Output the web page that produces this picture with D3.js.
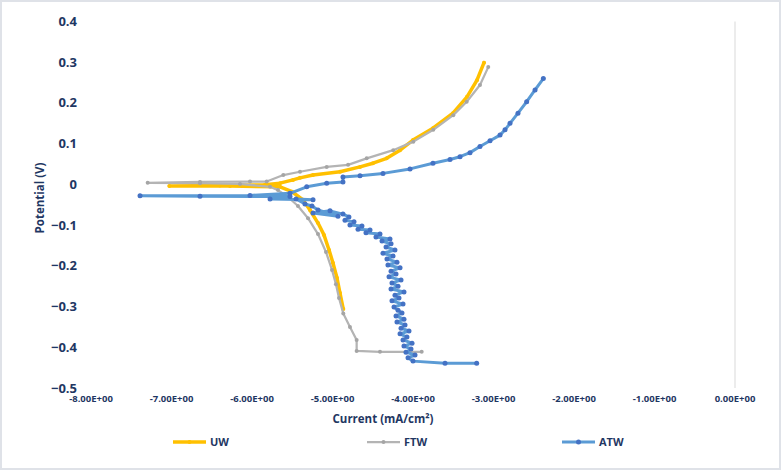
<!DOCTYPE html>
<html>
<head>
<meta charset="utf-8">
<script src="https://cdn.jsdelivr.net/npm/d3@7"></script>
<style>
  body { margin: 0; background: #fff; }
  text { font-family: "Open Sans", "Liberation Sans", sans-serif; font-weight: bold; fill: #1f3763; }
</style>
</head>
<body>
<div id="chart"></div>
<script>
// tick values
var xTicks = [-8, -7, -6, -5, -4, -3, -2, -1, 0];
var yTicks = [0.4, 0.3, 0.2, 0.1, 0, -0.1, -0.2, -0.3, -0.4, -0.5];

// UW series (current mA/cm2, potential V)
var uwCurrent = [-4.866, -4.907, -4.944, -4.994, -5.043, -5.106, -5.180, -5.280, -5.366, -5.503, -5.652, -6.273, -7.027,
  -6.40, -5.839, -5.652, -5.491, -5.404, -5.242, -4.907, -4.658, -4.497, -4.327, -4.161, -4.0, -3.752, -3.503, -3.329, -3.205, -3.118];
var uwPotential = [-0.306, -0.267, -0.230, -0.193, -0.161, -0.124, -0.095, -0.063, -0.038, -0.018, -0.006, -0.004, -0.004,
  -0.003, -0.001, 0.003, 0.011, 0.016, 0.023, 0.031, 0.043, 0.052, 0.064, 0.084, 0.109, 0.138, 0.175, 0.215, 0.256, 0.299];

// FTW series
var ftwCurrent = [-3.892, -4.410, -4.700, -4.700, -4.783, -4.866, -4.919, -4.957, -5.006, -5.081, -5.180, -5.304, -5.429, -5.553, -5.677, -5.776, -6.149, -6.646, -7.296,
  -6.646, -6.025, -5.817, -5.611, -5.404, -5.072, -4.807, -4.575, -4.245, -3.996, -3.748, -3.5, -3.333, -3.168, -3.065];
var ftwPotential = [-0.411, -0.411, -0.409, -0.382, -0.350, -0.317, -0.279, -0.245, -0.210, -0.166, -0.122, -0.083, -0.053, -0.031, -0.014, -0.006, 0.001, 0.003, 0.004,
  0.006, 0.007, 0.007, 0.023, 0.031, 0.043, 0.048, 0.064, 0.084, 0.105, 0.134, 0.170, 0.203, 0.244, 0.288];

// ATW series
var atwCurrent = [-3.209, -3.602, -4.0, -4.062, -3.975, -4.087, -4.025, -4.112, -4.012, -4.124, -4.075, -4.161, -4.050, -4.149,
  -4.099, -4.199, -4.112, -4.211, -4.137, -4.186, -4.236, -4.124, -4.261, -4.174, -4.224, -4.112, -4.273, -4.186, -4.261,
  -4.149, -4.298, -4.211, -4.273, -4.161, -4.311, -4.199, -4.323, -4.248, -4.373, -4.224, -4.335, -4.273, -4.385, -4.286,
  -4.460, -4.410, -4.584, -4.534, -4.683, -4.634, -4.783, -4.733, -4.845, -4.796, -4.870, -5.031, -5.242, -4.932, -5.180,
  -5.255, -5.342, -5.453, -5.242, -5.776, -5.528, -6.646, -7.391, -6.025, -5.528, -5.320, -5.072, -4.870, -4.870,
  -4.658, -4.373, -4.037, -3.752, -3.540, -3.416, -3.292, -3.168, -3.043, -2.919, -2.857, -2.795, -2.696, -2.588, -2.484, -2.381];
var atwPotential = [-0.439, -0.439, -0.434, -0.426, -0.419, -0.412, -0.404, -0.397, -0.390, -0.382, -0.375, -0.367, -0.360, -0.353,
  -0.345, -0.338, -0.331, -0.323, -0.316, -0.309, -0.301, -0.294, -0.286, -0.279, -0.272, -0.264, -0.257, -0.250, -0.242,
  -0.235, -0.227, -0.220, -0.213, -0.205, -0.198, -0.191, -0.183, -0.176, -0.169, -0.161, -0.154, -0.146, -0.139, -0.134,
  -0.129, -0.122, -0.119, -0.112, -0.110, -0.102, -0.100, -0.092, -0.088, -0.080, -0.073, -0.065, -0.070, -0.078, -0.063,
  -0.053, -0.048, -0.036, -0.038, -0.036, -0.030, -0.029, -0.028, -0.027, -0.022, -0.006, 0.003, 0.006, 0.018,
  0.021, 0.027, 0.038, 0.052, 0.061, 0.068, 0.078, 0.093, 0.107, 0.121, 0.134, 0.150, 0.175, 0.203, 0.232, 0.260];

var seriesNames = ["UW", "FTW", "ATW"];

var W = 781, H = 471;
var svg = d3.select("#chart").append("svg")
  .attr("width", W).attr("height", H);

// outer frame
svg.append("rect")
  .attr("x", 1).attr("y", 1).attr("width", W - 2).attr("height", H - 3)
  .attr("fill", "#fff").attr("stroke", "#dfe2e8").attr("stroke-width", 2);

var x = d3.scaleLinear().domain([-8, 0]).range([91, 735]);
var y = d3.scaleLinear().domain([-0.5, 0.4]).range([388, 21.5]);

// vertical axis line sits at x = 0
svg.append("line")
  .attr("x1", x(0)).attr("x2", x(0))
  .attr("y1", y(0.4)).attr("y2", y(-0.5))
  .attr("stroke", "#d9d9d9").attr("stroke-width", 1);

// y tick labels
svg.selectAll(".ytick").data(yTicks).enter().append("text")
  .attr("class", "ytick")
  .attr("x", 77).attr("y", function (d) { return y(d); })
  .attr("dy", "0.35em")
  .attr("text-anchor", "end")
  .style("font-size", "13px")
  .text(function (d) { return d3.format("")(d); });

// x tick labels
svg.selectAll(".xtick").data(xTicks).enter().append("text")
  .attr("class", "xtick")
  .attr("x", function (d) { return x(d); }).attr("y", 399)
  .attr("dy", "0.35em")
  .attr("text-anchor", "middle")
  .style("font-size", "9.5px")
  .text(function (d) { return d.toFixed(2) + "E+00"; });

// axis titles
svg.append("text")
  .attr("transform", "translate(40,198) rotate(-90)")
  .attr("text-anchor", "middle")
  .attr("dy", "0.35em")
  .style("font-size", "11.5px")
  .text("Potential (V)");

svg.append("text")
  .attr("x", 383).attr("y", 419)
  .attr("dy", "0.35em")
  .attr("text-anchor", "middle")
  .style("font-size", "11.5px")
  .text("Current (mA/cm²)");

function toPoints(cur, pot) {
  return cur.map(function (c, i) { return { c: c, p: pot[i] }; });
}

var series = [
  { name: seriesNames[0], data: toPoints(uwCurrent, uwPotential), line: "#ffc000", dot: "#ffc000", w: 3.5, r: 2 },
  { name: seriesNames[1], data: toPoints(ftwCurrent, ftwPotential), line: "#b4b4b4", dot: "#a5a5a5", w: 2.25, r: 2 },
  { name: seriesNames[2], data: toPoints(atwCurrent, atwPotential), line: "#5b9bd5", dot: "#4472c4", w: 3, r: 2.5 }
];

var valueline = d3.line()
  .x(function (d) { return x(d.c); })
  .y(function (d) { return y(d.p); });

series.forEach(function (s) {
  var g = svg.append("g");
  g.append("path")
    .datum(s.data)
    .attr("d", valueline)
    .attr("fill", "none")
    .attr("stroke", s.line)
    .attr("stroke-width", s.w)
    .attr("stroke-linejoin", "round")
    .attr("stroke-linecap", "round");
  g.selectAll("circle").data(s.data).enter().append("circle")
    .attr("cx", function (d) { return x(d.c); })
    .attr("cy", function (d) { return y(d.p); })
    .attr("r", s.r)
    .attr("fill", s.dot);
});

// legend
var legendX = [173, 367, 562];
series.forEach(function (s, i) {
  var lg = svg.append("g").attr("transform", "translate(" + legendX[i] + ",442)");
  lg.append("line").attr("x1", 0).attr("x2", 33).attr("y1", 0).attr("y2", 0)
    .attr("stroke", s.line).attr("stroke-width", s.w);
  lg.append("circle").attr("cx", 16.5).attr("cy", 0).attr("r", s.r).attr("fill", s.dot);
  lg.append("text").attr("x", 37).attr("y", 0).attr("dy", "0.35em")
    .style("font-size", "11px")
    .text(s.name);
});
</script>
</body>
</html>
